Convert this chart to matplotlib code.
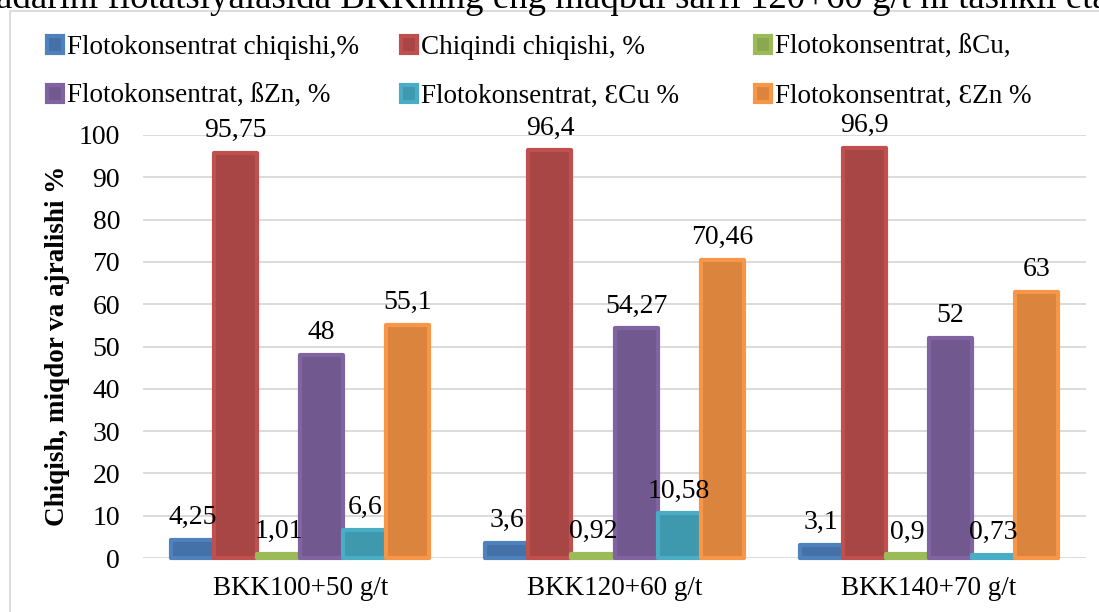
import numpy as np
import matplotlib
matplotlib.use("Agg")
import matplotlib.pyplot as plt
from matplotlib.patches import Rectangle

plt.rcParams['font.family'] = ['Liberation Serif', 'DejaVu Serif']

# Data
categories = ["BKK100+50 g/t", "BKK120+60 g/t", "BKK140+70 g/t"]
series_names = [
    "Flotokonsentrat chiqishi,%",
    "Chiqindi chiqishi, %",
    "Flotokonsentrat, ßCu,",
    "Flotokonsentrat, ßZn, %",
    "Flotokonsentrat, ƐCu %",
    "Flotokonsentrat, ƐZn %",
]
konsentrat_chiqishi = [4.25, 3.6, 3.1]
chiqindi_chiqishi = [95.75, 96.4, 96.9]
beta_cu = [1.01, 0.92, 0.9]
beta_zn = [48, 54.27, 52]
eps_cu = [6.6, 10.58, 0.73]
eps_zn = [55.1, 70.46, 63]
series_values = [konsentrat_chiqishi, chiqindi_chiqishi, beta_cu,
                 beta_zn, eps_cu, eps_zn]
y_ticks = list(range(0, 101, 10))

edge_colors = ["#4F81BD", "#C0504D", "#9BBB59", "#8064A2", "#4BACC6", "#F79646"]
fill_colors = ["#4371A8", "#A84646", "#8AA84F", "#71598F", "#3E98AE", "#DB843D"]

FS = 20
W, H = 1099, 612
fig = plt.figure(figsize=(W / 100, H / 100), dpi=100)

# Outer chart frame (runs past the right and bottom edges)
fig.patches.append(Rectangle((10 / W, -0.1), 1.2, 1.1 - 11 / H,
                             transform=fig.transFigure, fill=False,
                             edgecolor="#D9D9D9", linewidth=1.3))

# Partially visible heading line above the chart
fig.text(-4 / W, 1 - 8 / H,
         "adarini flotatsiyalasida BKKning eng maqbul sarfi 120+60 g/t ni tashkil etadi",
         fontsize=26.6, ha="left", va="baseline", color="black")

ax_left, ax_right = 143, 1086
ax_top, ax_bottom = 135, 558
ax = fig.add_axes([ax_left / W, (H - ax_bottom) / H,
                   (ax_right - ax_left) / W, (ax_bottom - ax_top) / H])

n = len(series_values)
w = 0.137
x = np.arange(len(categories))
containers = []
for i, vals in enumerate(series_values):
    bars = ax.bar(x + (i - (n - 1) / 2) * w, vals, w,
                  color=fill_colors[i], edgecolor=edge_colors[i],
                  linewidth=3.0, label=series_names[i], zorder=3,
                  clip_on=False)
    for p in bars:
        p.set_joinstyle("round")
    containers.append(bars)
    ax.bar_label(bars, labels=[f"{v:g}".replace(".", ",") for v in vals],
                 padding=7, fontsize=FS, zorder=4)

ax.set_xlim(-0.5, len(categories) - 0.5)
ax.set_ylim(0, 100)
ax.set_yticks(y_ticks)
ax.set_xticks(x)
ax.set_xticklabels(categories)
ax.tick_params(axis="both", length=0, labelsize=FS)
ax.tick_params(axis="x", labelsize=19.5)
ax.tick_params(axis="y", pad=16.5)
ax.tick_params(axis="x", pad=13)
ax.grid(axis="y", color="#D9D9D9", linewidth=1.3, zorder=0)
ax.set_axisbelow(True)
for s in ax.spines.values():
    s.set_visible(False)

fig.text(57 / W, 1 - 346 / H, "Chiqish, miqdor va ajralishi %",
         rotation=90, ha="center", va="center", fontsize=19.5,
         fontweight="bold")

# Legend: three columns, two rows
LFS = 19.5
col_x = [47, 401, 755]
for c in range(3):
    hs = [containers[c], containers[c + 3]]
    ls = [series_names[c], series_names[c + 3]]
    fig.legend(hs, ls, loc="upper left",
               bbox_to_anchor=(col_x[c] / W, 1 - 35 / H),
               frameon=False, fontsize=LFS, handlelength=0.6,
               handleheight=0.6, handletextpad=0.15, labelspacing=0.88,
               borderpad=0, borderaxespad=0)

fig.savefig("out.png", dpi=100)
